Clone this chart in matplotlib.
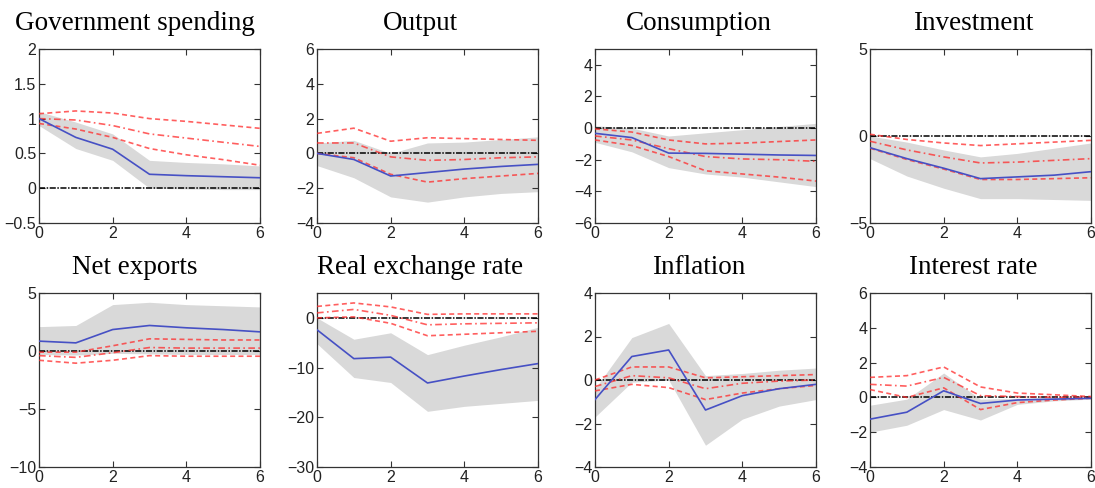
import numpy as np
import matplotlib
matplotlib.use("Agg")
import matplotlib.pyplot as plt

# horizon (quarters)
horizon = [0, 1, 2, 3, 4, 5, 6]

titles = ["Government spending", "Output", "Consumption", "Investment",
          "Net exports", "Real exchange rate", "Inflation", "Interest rate"]

ylims = [(-0.5, 2), (-4, 6), (-6, 5), (-5, 5),
         (-10, 5), (-30, 5), (-4, 4), (-4, 6)]

yticks = [[-0.5, 0, 0.5, 1, 1.5, 2], [-4, -2, 0, 2, 4, 6], [-6, -4, -2, 0, 2, 4],
          [-5, 0, 5], [-10, -5, 0, 5], [-30, -20, -10, 0], [-4, -2, 0, 2, 4],
          [-4, -2, 0, 2, 4, 6]]

# point estimate (blue)
blue = [
    [1.0, 0.73, 0.56, 0.20, 0.18, 0.165, 0.15],
    [0.0, -0.35, -1.3, -1.1, -0.9, -0.75, -0.63],
    [-0.33, -0.6, -1.58, -1.6, -1.65, -1.7, -1.73],
    [-0.67, -1.3, -1.85, -2.45, -2.35, -2.25, -2.05],
    [0.85, 0.7, 1.85, 2.2, 2.0, 1.85, 1.65],
    [-2.4, -8.2, -7.9, -13.1, -11.7, -10.4, -9.2],
    [-0.9, 1.08, 1.38, -1.38, -0.72, -0.4, -0.2],
    [-1.25, -0.85, 0.38, -0.35, -0.15, -0.1, -0.05],
]

# confidence band (grey)
band_hi = [
    [1.1, 0.95, 0.78, 0.40, 0.37, 0.35, 0.32],
    [0.6, 0.75, 0.0, 0.6, 0.65, 0.8, 0.95],
    [0.15, 0.0, -0.5, -0.3, -0.1, 0.1, 0.3],
    [0.0, -0.35, -0.8, -1.2, -1.0, -0.7, -0.4],
    [2.1, 2.2, 4.0, 4.2, 4.0, 3.9, 3.8],
    [0.0, -4.3, -3.0, -7.4, -5.5, -3.8, -1.9],
    [-0.4, 1.95, 2.6, 0.2, 0.3, 0.45, 0.55],
    [-0.45, -0.1, 1.4, -0.1, -0.05, 0.0, 0.0],
]
band_lo = [
    [0.9, 0.57, 0.40, 0.0, -0.01, -0.02, -0.02],
    [-0.7, -1.4, -2.5, -2.8, -2.5, -2.3, -2.2],
    [-0.9, -1.5, -2.5, -2.9, -3.1, -3.4, -3.7],
    [-1.3, -2.3, -3.0, -3.6, -3.6, -3.65, -3.7],
    [-0.3, -0.35, -0.2, -0.25, -0.3, -0.3, -0.3],
    [-5.2, -12.0, -13.0, -18.8, -17.8, -17.2, -16.6],
    [-1.7, -0.1, 0.0, -3.0, -1.8, -1.2, -0.9],
    [-2.0, -1.6, -0.7, -1.3, -0.4, -0.2, -0.1],
]

# model responses (red): upper, middle, lower
red_hi = [
    [1.07, 1.11, 1.08, 1.0, 0.96, 0.91, 0.86],
    [1.15, 1.45, 0.7, 0.9, 0.85, 0.8, 0.75],
    [-0.05, -0.25, -0.75, -1.0, -0.95, -0.85, -0.75],
    [0.1, -0.2, -0.4, -0.55, -0.45, -0.35, -0.25],
    [-0.1, -0.1, 0.45, 1.05, 1.0, 0.95, 0.95],
    [2.3, 3.0, 2.2, 0.7, 0.8, 0.8, 0.8],
    [0.0, 0.6, 0.6, 0.1, 0.15, 0.2, 0.25],
    [1.15, 1.25, 1.75, 0.6, 0.25, 0.15, 0.05],
]
red_mid = [
    [1.0, 0.98, 0.9, 0.78, 0.72, 0.66, 0.6],
    [0.6, 0.6, -0.2, -0.4, -0.35, -0.25, -0.2],
    [-0.5, -0.75, -1.3, -1.8, -1.95, -2.0, -2.1],
    [-0.3, -0.8, -1.2, -1.55, -1.5, -1.4, -1.3],
    [-0.4, -0.55, -0.15, 0.3, 0.25, 0.25, 0.25],
    [1.0, 1.7, 0.5, -1.4, -1.2, -1.1, -1.0],
    [-0.3, 0.2, 0.1, -0.4, -0.15, -0.05, 0.0],
    [0.75, 0.65, 1.15, 0.1, 0.05, 0.0, 0.0],
]
red_lo = [
    [0.93, 0.85, 0.73, 0.57, 0.48, 0.41, 0.33],
    [0.0, -0.25, -1.2, -1.65, -1.45, -1.3, -1.15],
    [-0.75, -1.1, -1.8, -2.7, -2.9, -3.1, -3.35],
    [-0.7, -1.35, -1.9, -2.5, -2.5, -2.45, -2.4],
    [-0.8, -1.05, -0.8, -0.4, -0.45, -0.45, -0.45],
    [0.0, 0.2, -1.1, -3.6, -3.3, -3.0, -2.7],
    [-0.5, -0.2, -0.35, -0.9, -0.6, -0.4, -0.25],
    [0.45, 0.0, 0.55, -0.7, -0.3, -0.15, -0.05],
]

fig = plt.figure(figsize=(10.95, 4.88), dpi=100)

lefts = [39, 317, 595, 870]
tops = [49, 293]
w, h = 221, 174
# titles sit a little left of the axes centre
title_shift = [-15, -7, -7, -7]

for i in range(8):
    r, c = divmod(i, 4)
    ax = fig.add_axes([lefts[c] / 1095, (488 - tops[r] - h) / 488, w / 1095, h / 488])

    ax.fill_between(horizon, band_lo[i], band_hi[i], color="#d9d9d9", lw=0, zorder=1)
    ax.axhline(0, color="k", lw=1.1, ls=(0, (4, 1, 1, 1)), zorder=2)
    ax.plot(horizon, red_hi[i], color="#ff2a2a", alpha=0.75, lw=1.2, ls=(0, (3, 2)), zorder=3)
    ax.plot(horizon, red_mid[i], color="#ff2a2a", alpha=0.75, lw=1.2, ls=(0, (4, 2, 1, 2)), zorder=3)
    ax.plot(horizon, red_lo[i], color="#ff2a2a", alpha=0.75, lw=1.2, ls=(0, (3, 2)), zorder=3)
    ax.plot(horizon, blue[i], color="#4650c4", lw=1.2, zorder=4)

    ax.set_xlim(0, 6)
    ax.set_ylim(*ylims[i])
    ax.set_xticks([0, 2, 4, 6])
    ax.set_yticks(yticks[i])
    ax.set_yticklabels([("%g" % v).replace("-", "\u2212") for v in yticks[i]])
    ax.tick_params(direction="in", top=True, right=True, length=4, width=0.8,
                   color="#333333", labelsize=11.5, pad=2)
    for lab in ax.get_xticklabels() + ax.get_yticklabels():
        lab.set_fontfamily("Liberation Sans")
        lab.set_color("#222222")
    for sp in ax.spines.values():
        sp.set_color("#333333")
        sp.set_linewidth(0.9)

    ax.text(0.5 + title_shift[c] / w, 1.0 + 19 / h, titles[i], transform=ax.transAxes,
            ha="center", va="baseline", fontfamily="Liberation Serif", fontsize=19.5)

fig.savefig("out.png", dpi=100)
